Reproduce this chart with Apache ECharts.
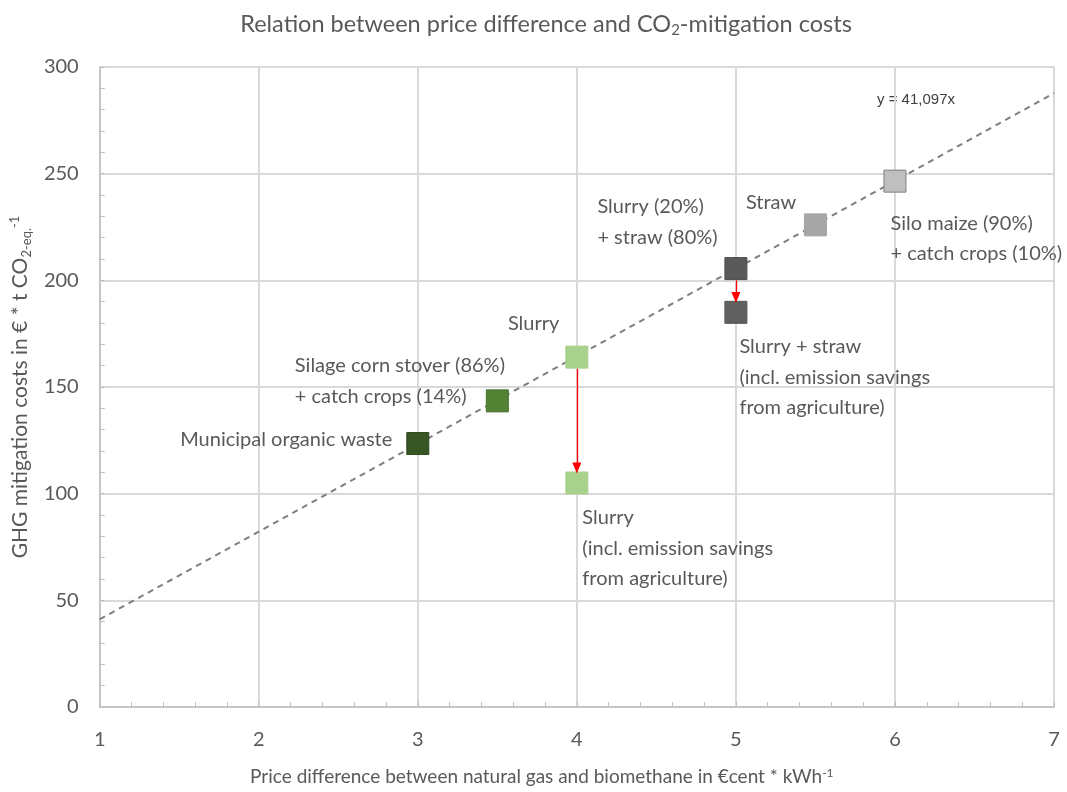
<!DOCTYPE html>
<html>
<head>
<meta charset="utf-8">
<script src="https://cdn.jsdelivr.net/npm/echarts@6/dist/echarts.min.js"></script>
<style>html,body{margin:0;padding:0;background:#fff}#c{width:1067px;height:792px}</style>
</head>
<body>
<div id="c"></div>
<script>
// ---- data ----
var names = [
  'Municipal organic waste',
  'Silage corn stover (86%)\n+ catch crops (14%)',
  'Slurry',
  'Slurry\n(incl. emission savings\nfrom agriculture)',
  'Slurry (20%)\n+ straw (80%)',
  'Slurry + straw\n(incl. emission savings\nfrom agriculture)',
  'Straw',
  'Silo maize (90%)\n+ catch crops (10%)'
];
var priceDiff = [3, 3.5, 4, 4, 5, 5, 5.5, 6];
var mitigationCost = [123.5, 143.5, 164, 105, 205.5, 185, 226, 246.5];
var trendX = [1, 7];
var trendY = [41.1, 287.7];
var arrowFrom = [[4, 158.5], [5, 200]];
var arrowTo = [[4, 112], [5, 192]];
var xTicks = [1, 7, 1];   // min, max, interval
var yTicks = [0, 300, 50];

// ---- styling ----
var markerColors = ['#375623', '#548235', '#a9d18e', '#a9d18e', '#595959', '#606060', '#a6a6a6', '#bfbfbf'];
var markerBorders = ['#2e481d', '#47702c', '#a9d18e', '#a9d18e', '#4d4d4d', '#555555', '#a6a6a6', '#7f7f7f'];
var labelPos = [[-14, 8, 'right'], [-191, -8.5, 'left'], [-6, -22, 'right'], [17, 77, 'left'],
                [-127, -35, 'left'], [15, 76.5, 'left'], [-58, -11, 'left'], [7, 69, 'left']];
var FONT = 'Lato';
var TXT = '#595959';

var pts = priceDiff.map(function (x, i) {
  return {
    value: [x, mitigationCost[i]],
    itemStyle: { color: markerColors[i], borderColor: markerBorders[i], borderWidth: 1, opacity: 1 },
    label: {
      show: true, formatter: names[i], position: [labelPos[i][0], labelPos[i][1]],
      align: labelPos[i][2], verticalAlign: 'middle',
      color: TXT, fontFamily: FONT, fontSize: 20, lineHeight: 30.5
    }
  };
});

var arrows = arrowFrom.map(function (f, i) {
  return [{ coord: f }, { coord: arrowTo[i] }];
});

var chart = echarts.init(document.getElementById('c'));
chart.setOption({
  animation: false,
  backgroundColor: '#fff',
  title: {
    text: 'Relation between price difference and CO{sub|2}-mitigation costs',
    left: 541, top: 6, textAlign: 'center',
    textStyle: {
      color: TXT, fontFamily: FONT, fontSize: 23.5, fontWeight: 'normal',
      rich: { sub: { fontSize: 15, verticalAlign: 'bottom', padding: [12, 0, 0, 0], color: TXT, fontFamily: FONT } }
    }
  },
  grid: { left: 99, right: 13, top: 67, bottom: 85 },
  xAxis: {
    type: 'value', min: xTicks[0], max: xTicks[1], interval: xTicks[2],
    name: 'Price difference between natural gas and biomethane in €cent * kWh{sup|-1}',
    nameLocation: 'middle', nameGap: 60,
    nameTextStyle: {
      color: TXT, fontFamily: FONT, fontSize: 19, padding: [0, 70, 0, 0],
      rich: { sup: { fontSize: 12, verticalAlign: 'top', padding: [0, 0, 8, 0], color: TXT, fontFamily: FONT } }
    },
    axisLine: { show: true, lineStyle: { color: '#bfbfbf', width: 1.5 } },
    axisTick: { show: true, inside: true, length: 5, lineStyle: { color: '#bfbfbf' } },
    minorTick: { show: true, splitNumber: 5, length: 5, lineStyle: { color: '#bfbfbf' } },
    axisLabel: { color: TXT, fontFamily: FONT, fontSize: 20, margin: 23 },
    splitLine: { show: true, lineStyle: { color: '#d9d9d9', width: 2 } }
  },
  yAxis: {
    type: 'value', min: yTicks[0], max: yTicks[1], interval: yTicks[2],
    name: 'GHG mitigation costs in € * t CO{sub|2-eq.}{sup|-1}',
    nameLocation: 'middle', nameGap: 64,
    nameTextStyle: {
      color: TXT, fontFamily: FONT, fontSize: 21,
      rich: {
        sub: { fontSize: 13, verticalAlign: 'bottom', padding: [9, 0, 0, 0], color: TXT, fontFamily: FONT },
        sup: { fontSize: 13, verticalAlign: 'top', padding: [0, 0, 12, 0], color: TXT, fontFamily: FONT }
      }
    },
    axisLine: { show: true, lineStyle: { color: '#bfbfbf', width: 1.5 } },
    axisTick: { show: true, inside: true, length: 5, lineStyle: { color: '#bfbfbf' } },
    minorTick: { show: true, splitNumber: 5, length: 5, lineStyle: { color: '#bfbfbf' } },
    axisLabel: { color: TXT, fontFamily: FONT, fontSize: 20, margin: 21 },
    splitLine: { show: true, lineStyle: { color: '#d9d9d9', width: 2 } }
  },
  graphic: [{
    type: 'text', left: 877, top: 92,
    style: { text: 'y = 41,097x', fill: '#404040', font: '15px "Liberation Sans"' }
  }],
  series: [
    {
      type: 'line', data: trendX.map(function (x, i) { return [x, trendY[i]]; }),
      symbol: 'none', silent: true, z: 1,
      lineStyle: { color: '#7f7f7f', width: 2, type: [6, 5] }
    },
    {
      type: 'scatter', data: pts, symbol: 'rect', symbolSize: 22, z: 3,
      markLine: {
        silent: true, symbol: ['none', 'triangle'], symbolSize: [9, 11],
        label: { show: false },
        lineStyle: { color: '#ff0000', width: 1.3, type: 'solid' },
        data: arrows
      }
    }
  ]
});
</script>
</body>
</html>
